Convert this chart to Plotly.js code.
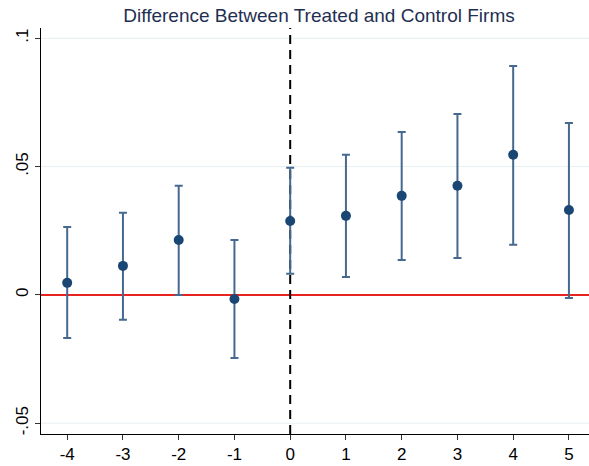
<!DOCTYPE html>
<html>
<head>
<meta charset="utf-8">
<script src="https://cdn.plot.ly/plotly-3.0.1.min.js"></script>
<style>html,body{margin:0;padding:0;background:#fff}#chart{width:589px;height:466px}</style>
</head>
<body>
<div id="chart"></div>
<script>
const periods = [-4, -3, -2, -1, 0, 1, 2, 3, 4, 5];
const estimates = [0.0047, 0.0113, 0.0214, -0.0016, 0.0288, 0.0308, 0.0386, 0.0425, 0.0546, 0.0331];
const upperCI = [0.0265, 0.0320, 0.0425, 0.0214, 0.0495, 0.0546, 0.0635, 0.0705, 0.0892, 0.0670];
const lowerCI = [-0.0168, -0.0097, 0.0000, -0.0246, 0.0082, 0.0070, 0.0136, 0.0144, 0.0195, -0.0012];
const yTickVals = [-0.05, 0, 0.05, 0.1];
const yTickText = ['-.05', '0', '.05', '.1'];
const titleText = 'Difference Between Treated and Control Firms';

const errPlus = upperCI.map((u, i) => u - estimates[i]);
const errMinus = lowerCI.map((l, i) => estimates[i] - l);

const trace = {
  x: periods,
  y: estimates,
  type: 'scatter',
  mode: 'markers',
  marker: {color: '#1a4674', size: 10},
  error_y: {
    type: 'data', symmetric: false,
    array: errPlus, arrayminus: errMinus,
    color: '#46698f', thickness: 2, width: 4
  },
  showlegend: false,
  hoverinfo: 'x+y'
};

const font = 'Arial';

const gridShapes = yTickVals.filter(v => v !== 0).map(v => ({
  type: 'line', xref: 'paper', x0: 0, x1: 1, yref: 'y', y0: v, y1: v,
  line: {color: '#e8eff2', width: 1}, layer: 'below'
}));

const layout = {
  width: 589, height: 466,
  margin: {l: 41, r: 0, t: 28, b: 32},
  paper_bgcolor: '#ffffff',
  plot_bgcolor: '#ffffff',
  font: {family: font, size: 17, color: '#000'},
  title: {
    text: titleText,
    font: {family: font, size: 19, color: '#1f2f52'},
    x: 0.5416, xanchor: 'center', y: 0.968, yanchor: 'middle'
  },
  xaxis: {
    range: [-4.47, 5.36],
    tickmode: 'array',
    tickvals: periods,
    ticktext: periods.map(String),
    showgrid: false, zeroline: false,
    showline: true, linecolor: '#000', linewidth: 1,
    ticks: 'outside', ticklen: 5, tickcolor: '#333', tickwidth: 1,
    tickfont: {family: font, size: 17, color: '#000'}
  },
  yaxis: {
    range: [-0.0542, 0.104],
    tickmode: 'array',
    tickvals: yTickVals,
    ticktext: yTickText,
    tickangle: -90,
    showgrid: false,
    zeroline: false,
    showline: true, linecolor: '#000', linewidth: 1,
    ticks: 'outside', ticklen: 5, tickcolor: '#333', tickwidth: 1,
    tickfont: {family: font, size: 17, color: '#000'}
  },
  shapes: gridShapes.concat([
    {type: 'line', xref: 'paper', x0: 0, x1: 1, yref: 'y', y0: 0, y1: 0,
     line: {color: 'rgb(232,35,31)', width: 2}, layer: 'below'},
    {type: 'line', xref: 'x', x0: 0, x1: 0, yref: 'paper', y0: 0, y1: 1,
     line: {color: '#000', width: 2, dash: '9px,6px'}, layer: 'below'}
  ])
};

Plotly.newPlot('chart', [trace], layout, {displayModeBar: false, staticPlot: true});
</script>
</body>
</html>
